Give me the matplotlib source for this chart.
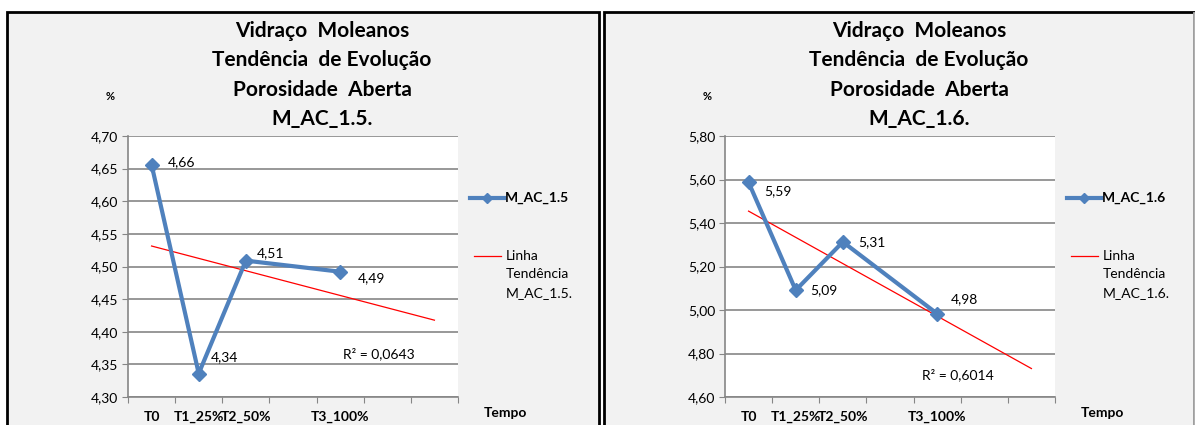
import numpy as np
import matplotlib
matplotlib.use("Agg")
from matplotlib import pyplot as plt
from matplotlib.patches import Rectangle
from matplotlib.lines import Line2D
from matplotlib.ticker import FuncFormatter, FixedLocator

plt.rcParams['font.family'] = ['Lato', 'DejaVu Sans']

# Data
categories = ["T0", "T1_25%", "T2_50%", "", "T3_100%", "", ""]
point_slots = [0, 1, 2, 4]

names = ["M_AC_1.5", "M_AC_1.6"]
values_15 = [4.656, 4.336, 4.509, 4.492]
values_16 = [5.587, 5.091, 5.313, 4.983]
r2_15 = "0,0643"
r2_16 = "0,6014"
ylim_15 = (4.30, 4.70, 0.05)
ylim_16 = (4.60, 5.80, 0.20)

W, H = 1195, 425
BLUE = '#4F81BD'
GRID = '#868686'

fig = plt.figure(figsize=(W / 100, H / 100), dpi=100)
fig.patch.set_facecolor('white')


def fx(x):
    return x / W


def fy(y):
    return 1 - y / H


def draw_panel(left, right, name, values, yinfo, r2, r2_pos, label_offsets, edge):
    fig.add_artist(Rectangle((fx(left), fy(440)), fx(right - left), (440 - 12) / H,
                             transform=fig.transFigure, facecolor='#f2f2f2',
                             edgecolor='black', linewidth=2, zorder=0))
    if edge:
        # right border of the last panel is lighter where the image is cropped
        fig.add_artist(Line2D([fx(right), fx(right)], [fy(13), fy(440)], color='#b0b0b0',
                              linewidth=2, transform=fig.transFigure, zorder=1))

    # title, one line at a time
    title_lines = ["Vidraço  Moleanos", "Tendência  de Evolução", "Porosidade  Aberta", name + "."]
    for i, line in enumerate(title_lines):
        fig.text(fx(left + 315), fy(31 + 29.3 * i), line, ha='center', va='center',
                 fontsize=15, fontweight='bold')
    fig.text(fx(left + 103), fy(97), "%", ha='center', va='center',
             fontsize=8, fontweight='bold')
    fig.text(fx(left + 498), fy(413), "Tempo", ha='center', va='center',
             fontsize=10, fontweight='bold')

    ax = fig.add_axes([fx(left + 121), fy(397), 330 / W, 261 / H])
    ax.set_facecolor('white')
    ymin, ymax, step = yinfo
    ax.set_ylim(ymin, ymax)
    ax.set_xlim(-0.5, len(categories) - 0.5)
    ax.set_yticks(np.arange(ymin, ymax + step / 2, step))
    ax.yaxis.set_major_formatter(FuncFormatter(lambda v, p: f"{v:.2f}".replace('.', ',')))
    ax.yaxis.grid(True, color=GRID, linewidth=1.2)
    ax.set_axisbelow(True)

    ax.xaxis.set_major_locator(FixedLocator(np.arange(-0.5, len(categories), 1.0)))
    ax.xaxis.set_major_formatter(FuncFormatter(lambda v, p: ""))
    ax.xaxis.set_minor_locator(FixedLocator(range(len(categories))))
    ax.set_xticklabels(categories, minor=True, fontsize=10, fontweight='bold')
    ax.tick_params(axis='x', which='minor', length=0, pad=10)
    ax.tick_params(axis='x', which='major', length=4, color=GRID, direction='out')
    ax.tick_params(axis='y', length=4, color=GRID, labelsize=10, pad=3)

    for s in ['top', 'right']:
        ax.spines[s].set_visible(False)
    for s in ['left', 'bottom']:
        ax.spines[s].set_color(GRID)
        ax.spines[s].set_linewidth(1.2)

    # linear trend over the category positions, extended to the last slot
    xs = np.array(point_slots, dtype=float)
    coef = np.polyfit(xs, values, 1)
    tx = np.array([0, len(categories) - 1])
    ax.plot(tx, np.polyval(coef, tx), color='red', linewidth=0.9, zorder=2)

    ax.plot(point_slots, values, color=BLUE, linewidth=3, marker='D',
            markersize=7, zorder=3)

    for x, v, (dx, dy) in zip(point_slots, values, label_offsets):
        ax.annotate(f"{v:.2f}".replace('.', ','), (x, v), xytext=(dx, -dy),
                    textcoords='offset pixels', ha='left', va='center', fontsize=10)

    ax.text(r2_pos[0], r2_pos[1], "R² = " + r2, ha='left', va='center', fontsize=10)

    # legend
    lx = left + 463
    fig.add_artist(Line2D([fx(lx), fx(lx + 17), fx(lx + 34)], [fy(198)] * 3, color=BLUE,
                          linewidth=3, marker='D', markersize=5, markevery=[1],
                          transform=fig.transFigure))
    fig.text(fx(lx + 35), fy(198), name, ha='left', va='center',
             fontsize=10, fontweight='bold')
    fig.add_artist(Line2D([fx(lx + 4), fx(lx + 31)], [fy(256), fy(256)], color='red',
                          linewidth=0.9, transform=fig.transFigure))
    for i, line in enumerate(["Linha", "Tendência", name + "."]):
        fig.text(fx(lx + 36), fy(256 + 18.5 * i), line, ha='left', va='center', fontsize=10)


draw_panel(7, 599, names[0], values_15, ylim_15, r2_15, (4.06, 4.367),
           [(16, -3), (12, -16), (11, -7), (18, 6)], False)
draw_panel(604, 1194, names[1], values_16, ylim_16, r2_16, (3.67, 4.704),
           [(16, 9), (15, 0), (15, 0), (14, -15)], True)

plt.savefig('out.png', dpi=100)
